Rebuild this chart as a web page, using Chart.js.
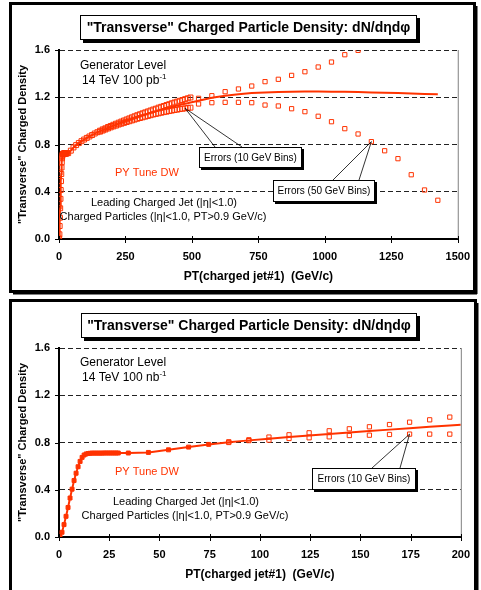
<!DOCTYPE html>
<html>
<head>
<meta charset="utf-8">
<script src="https://cdn.jsdelivr.net/npm/chart.js@4.4.1/dist/chart.umd.min.js"></script>
<style>
  html, body { margin: 0; padding: 0; background: #fff; }
  #wrap { position: relative; width: 481px; height: 590px; overflow: hidden; }
  canvas { position: absolute; left: 0; }
  #c1 { top: 0; }
  #c2 { top: 297px; }
</style>
</head>
<body>
<div id="wrap">
  <canvas id="c1" width="481" height="297"></canvas>
  <canvas id="c2" width="481" height="293"></canvas>
</div>
<script>
// ---- shared axis values ----
const yTicks = [0, 0.4, 0.8, 1.2, 1.6];
const xTicks1 = [0, 250, 500, 750, 1000, 1250, 1500];
const xTicks2 = [0, 25, 50, 75, 100, 125, 150, 175, 200];

// 1 GeV bins at low PT
const fineBinsPt = [0.5, 1.5, 2.5, 3.5, 4.5, 5.5, 6.5, 7.5, 8.5, 9.5, 10.5, 11.5, 12.5, 13.5, 14.5,
  15.5, 16.5, 17.5, 18.5, 19.5, 20.5, 21.5, 22.5, 23.5, 24.5, 25.5, 26.5, 27.5, 28.5, 29.5];

// ---- top panel: 14 TeV 100 pb-1 ----
const fineDens1 = [0.005, 0.04, 0.11, 0.18, 0.26, 0.34, 0.415, 0.49, 0.55, 0.605, 0.65, 0.683, 0.704, 0.714, 0.719,
  0.721, 0.722, 0.723, 0.723, 0.724, 0.724, 0.724, 0.725, 0.725, 0.725, 0.725, 0.725, 0.725, 0.726, 0.726];
const bins10Pt1 = [34.5, 44.5, 54.5, 64.5, 74.5, 84.5, 94.5, 104.5, 114.5, 124.5, 134.5, 144.5,
  154.5, 164.5, 174.5, 184.5, 194.5, 204.5, 214.5, 224.5, 234.5, 244.5, 254.5, 264.5, 274.5, 284.5,
  294.5, 304.5, 314.5, 324.5, 334.5, 344.5, 354.5, 364.5, 374.5, 384.5, 394.5, 404.5, 414.5, 424.5,
  434.5, 444.5, 454.5, 464.5, 474.5, 484.5, 494.5];
const bins10Dens1 = [0.727, 0.748, 0.775, 0.795, 0.812, 0.828, 0.842, 0.856, 0.868, 0.880, 0.893, 0.904,
  0.913, 0.923, 0.932, 0.942, 0.951, 0.960, 0.968, 0.977, 0.985, 0.993, 1.001, 1.009, 1.017, 1.025,
  1.033, 1.040, 1.047, 1.054, 1.061, 1.068, 1.075, 1.081, 1.088, 1.094, 1.100, 1.106, 1.112, 1.118,
  1.124, 1.129, 1.135, 1.140, 1.145, 1.150, 1.155];
const fitPt1 = [525, 575, 625, 675, 725, 775, 825, 875, 925, 975, 1025, 1075, 1125, 1175, 1225, 1275, 1325, 1375, 1425];
const fitDens1 = [1.170, 1.195, 1.213, 1.226, 1.235, 1.241, 1.245, 1.247, 1.248, 1.248, 1.247, 1.246, 1.244,
  1.241, 1.238, 1.235, 1.231, 1.228, 1.225];

const err10Pt1 = [154.5, 164.5, 174.5, 184.5, 194.5, 204.5, 214.5, 224.5, 234.5, 244.5, 254.5, 264.5,
  274.5, 284.5, 294.5, 304.5, 314.5, 324.5, 334.5, 344.5, 354.5, 364.5, 374.5, 384.5, 394.5, 404.5,
  414.5, 424.5, 434.5, 444.5, 454.5, 464.5, 474.5, 484.5, 494.5];
const err10Up1 = [0.917, 0.928, 0.937, 0.948, 0.957, 0.967, 0.976, 0.985, 0.994, 1.003, 1.012, 1.021,
  1.030, 1.039, 1.048, 1.056, 1.064, 1.072, 1.080, 1.088, 1.096, 1.103, 1.112, 1.119, 1.126, 1.134,
  1.141, 1.149, 1.156, 1.163, 1.170, 1.177, 1.184, 1.191, 1.198];
const err10Lo1 = [0.909, 0.918, 0.927, 0.936, 0.945, 0.953, 0.960, 0.969, 0.976, 0.983, 0.990, 0.997,
  1.004, 1.011, 1.018, 1.024, 1.030, 1.036, 1.042, 1.048, 1.054, 1.059, 1.064, 1.069, 1.074, 1.078,
  1.083, 1.087, 1.092, 1.095, 1.100, 1.103, 1.106, 1.109, 1.112];

const err50PtUp1 = [525, 575, 625, 675, 725, 775, 825, 875, 925, 975, 1025, 1075, 1125];
const err50Up1 = [1.191, 1.213, 1.247, 1.270, 1.295, 1.332, 1.352, 1.385, 1.416, 1.456, 1.498, 1.560, 1.597];
const err50PtLo1 = [525, 575, 625, 675, 725, 775, 825, 875, 925, 975, 1025, 1075, 1125, 1175, 1225, 1275, 1325, 1375, 1425];
const err50Lo1 = [1.143, 1.154, 1.157, 1.157, 1.154, 1.134, 1.126, 1.103, 1.078, 1.039, 0.993, 0.934, 0.889,
  0.824, 0.747, 0.680, 0.544, 0.415, 0.328];

// ---- bottom panel: 14 TeV 100 nb-1 ----
const fineDens2 = [0.005, 0.04, 0.105, 0.175, 0.25, 0.33, 0.405, 0.478, 0.54, 0.595, 0.64, 0.674, 0.694, 0.703, 0.707,
  0.709, 0.710, 0.710, 0.710, 0.710, 0.710, 0.710, 0.711, 0.711, 0.711, 0.711, 0.711, 0.711, 0.711, 0.711];
const bins10Pt2 = [34.5, 44.5, 54.5, 64.5, 74.5, 84.5, 94.5, 104.5, 114.5, 124.5, 134.5, 144.5, 154.5,
  164.5, 174.5, 184.5, 194.5, 200];
const bins10Dens2 = [0.711, 0.716, 0.738, 0.761, 0.784, 0.803, 0.818, 0.832, 0.846, 0.859, 0.872, 0.885,
  0.897, 0.909, 0.921, 0.933, 0.944, 0.950];
const err10Pt2 = [84.5, 94.5, 104.5, 114.5, 124.5, 134.5, 144.5, 154.5, 164.5, 174.5, 184.5, 194.5];
const err10Up2 = [0.806, 0.823, 0.846, 0.865, 0.882, 0.899, 0.916, 0.933, 0.952, 0.972, 0.992, 1.015];
const err10Lo2 = [0.800, 0.816, 0.820, 0.834, 0.840, 0.848, 0.859, 0.862, 0.868, 0.871, 0.871, 0.871];

const RED = '#ff3300';
const FONT = "'Liberation Sans', Arial, sans-serif";
Chart.defaults.font.family = FONT;

function xy(xs, ys) {
  return xs.map((x, i) => ({ x: x, y: ys[i] }));
}

function openSquares(xs, ys, r) {
  return {
    data: xy(xs, ys), showLine: false, pointStyle: 'rect', pointRadius: r,
    pointBorderColor: RED, pointBackgroundColor: 'rgba(0,0,0,0)', pointBorderWidth: 1
  };
}

function txt(ctx, s, x, y, size, opts) {
  opts = opts || {};
  ctx.font = (opts.bold ? 'bold ' : '') + size + 'px ' + FONT;
  ctx.fillStyle = opts.color || '#000';
  ctx.textAlign = opts.align || 'left';
  ctx.textBaseline = 'middle';
  ctx.fillText(s, x, y);
  return ctx.measureText(s).width;
}

function line(ctx, x1, y1, x2, y2) {
  ctx.beginPath(); ctx.moveTo(x1, y1); ctx.lineTo(x2, y2); ctx.stroke();
}

function shadowBox(ctx, x, y, w, h, off) {
  ctx.fillStyle = '#000';
  ctx.fillRect(x + off, y + off, w, h);
  ctx.fillStyle = '#fff';
  ctx.fillRect(x, y, w, h);
  ctx.strokeStyle = '#000';
  ctx.lineWidth = 1;
  ctx.strokeRect(x + 0.5, y + 0.5, w - 1, h - 1);
}

// frame, title box, labels and callouts drawn over each panel
function panelPlugin(p) {
  return {
    id: 'panel' + p.id,
    afterDraw(chart) {
      const ctx = chart.ctx;
      const a = chart.chartArea;
      const sx = chart.scales.x, sy = chart.scales.y;
      ctx.save();

      // right edge of the plot
      ctx.strokeStyle = '#808080'; ctx.lineWidth = 1;
      line(ctx, a.right + 0.5, a.top, a.right + 0.5, a.bottom);

      // tick marks
      ctx.strokeStyle = '#000';
      sx.ticks.forEach(t => {
        const px = Math.round(sx.getPixelForValue(t.value)) + 0.5;
        line(ctx, px, a.bottom - 3, px, a.bottom + 4);
      });
      sy.ticks.forEach(t => {
        const py = Math.round(sy.getPixelForValue(t.value)) + 0.5;
        line(ctx, a.left - 4, py, a.left, py);
      });

      // outer frame
      ctx.lineWidth = 3;
      ctx.strokeRect(p.frame[0] + 0.5, p.frame[1] + 0.5, p.frame[2], p.frame[3]);
      ctx.fillStyle = '#000';
      ctx.fillRect(p.frame[0] + p.frame[2] + 2, p.frame[1] + 3, 1.5, p.frame[3]);
      ctx.fillRect(p.frame[0] + 3, p.frame[1] + p.frame[3] + 2, p.frame[2], 1.5);

      // title box
      const tb = p.titleBox;
      shadowBox(ctx, tb[0], tb[1], tb[2], tb[3], 3);
      txt(ctx, '"Transverse" Charged Particle Density: dN/d\u03b7d\u03c6', tb[0] + tb[2] / 2, tb[1] + tb[3] / 2 + 0.5, 14,
        { bold: true, align: 'center' });

      // annotations
      txt(ctx, 'Generator Level', 80, p.genY, 12);
      const w = txt(ctx, '14 TeV 100 ' + p.lumi, 82, p.genY + 15, 12);
      txt(ctx, '-1', 82 + w, p.genY + 11, 8);
      txt(ctx, 'PY Tune DW', 115, p.pyY, 11, { color: RED });
      txt(ctx, 'Leading Charged Jet (|\u03b7|<1.0)', p.jetX, p.jetY, 11, { align: 'center' });
      txt(ctx, 'Charged Particles (|\u03b7|<1.0, PT>0.9 GeV/c)', p.jetX - 1, p.jetY + 14, 11, { align: 'center' });

      // callouts
      p.callouts.forEach(c => {
        const ax = sx.getPixelForValue(c.apex[0]);
        const ay = sy.getPixelForValue(c.apex[1]);
        ctx.strokeStyle = '#000'; ctx.lineWidth = 0.8;
        c.feet.forEach(fx => line(ctx, ax, ay, fx, c.box[1]));
        shadowBox(ctx, c.box[0], c.box[1], c.box[2], c.box[3], 2);
        txt(ctx, c.text, c.box[0] + c.box[2] / 2, c.box[1] + c.box[3] / 2 + 0.5, 10, { align: 'center' });
      });
      ctx.restore();
    }
  };
}

function makeScales(xMax, xTicks, xAxisH, xTitlePad) {
  return {
    x: {
      type: 'linear', min: 0, max: xMax,
      afterBuildTicks: s => { s.ticks = xTicks.map(v => ({ value: v })); },
      afterFit: s => { s.height = xAxisH; },
      grid: { drawOnChartArea: false, drawTicks: false },
      border: { display: true, color: '#000', width: 2 },
      ticks: {
        font: { family: FONT, size: 11, weight: 'bold' }, color: '#000', padding: 11,
        maxRotation: 0, autoSkip: false, callback: v => String(v)
      },
      title: {
        display: true, text: 'PT(charged jet#1)  (GeV/c)', color: '#000',
        font: { family: FONT, size: 12, weight: 'bold' }, padding: { top: 0, bottom: xTitlePad }
      }
    },
    y: {
      type: 'linear', min: 0, max: 1.6,
      afterBuildTicks: s => { s.ticks = yTicks.map(v => ({ value: v })); },
      afterFit: s => { s.width = 47; },
      grid: {
        color: c => (c.tick && c.tick.value === 0) ? 'rgba(0,0,0,0)' : '#222',
        lineWidth: 1, drawTicks: false
      },
      border: { display: true, color: '#000', width: 2, dash: [5, 3] },
      ticks: {
        font: { family: FONT, size: 11, weight: 'bold' }, color: '#000', padding: 9,
        callback: v => Number(v).toFixed(1)
      },
      title: {
        display: true, text: '"Transverse" Charged Density', color: '#000',
        font: { family: FONT, size: 11, weight: 'bold' }, padding: { top: 4.4, bottom: 0 }
      }
    }
  };
}

const baseOpts = {
  responsive: false, animation: false, devicePixelRatio: 1,
  plugins: { legend: { display: false }, tooltip: { enabled: false } }
};

// ---- top chart ----
new Chart(document.getElementById('c1'), {
  type: 'scatter',
  data: {
    datasets: [
      {
        data: xy(fineBinsPt.concat(bins10Pt1, fitPt1), fineDens1.concat(bins10Dens1, fitDens1)),
        showLine: true, borderColor: RED, borderWidth: 2, pointStyle: 'rect',
        pointRadius: c => (c.raw && c.raw.x <= 150) ? 3.5 : 0,
        pointBorderColor: RED, pointBackgroundColor: 'rgba(0,0,0,0)', pointBorderWidth: 1
      },
      openSquares(err10Pt1, err10Up1, 3.5),
      openSquares(err10Pt1, err10Lo1, 3.5),
      openSquares(err50PtUp1, err50Up1, 3),
      openSquares(err50PtLo1, err50Lo1, 3)
    ]
  },
  options: Object.assign({}, baseOpts, {
    layout: { padding: { left: 12, right: 15, top: 50, bottom: 0 } },
    scales: makeScales(1500, xTicks1, 58, 13)
  }),
  plugins: [panelPlugin({
    id: 1, frame: [10, 3, 464, 288], titleBox: [80, 15, 337, 25], lumi: 'pb',
    genY: 66, pyY: 173, jetX: 164, jetY: 203,
    callouts: [
      { box: [199, 147, 103, 21], text: 'Errors (10 GeV Bins)', feet: [215, 242], apex: [err10Pt1[32], err10Lo1[32]] },
      { box: [273, 180, 102, 22], text: 'Errors (50 GeV Bins)', feet: [333, 359], apex: [err50PtLo1[13], err50Lo1[13]] }
    ]
  })]
});

// ---- bottom chart ----
new Chart(document.getElementById('c2'), {
  type: 'scatter',
  data: {
    datasets: [
      {
        data: xy(fineBinsPt.concat(bins10Pt2), fineDens2.concat(bins10Dens2)),
        showLine: true, borderColor: RED, borderWidth: 2, pointStyle: 'rect',
        pointRadius: c => (c.raw && c.raw.x <= 80) ? 2.8 : 0,
        pointBorderColor: RED, pointBackgroundColor: RED, pointBorderWidth: 1
      },
      openSquares(err10Pt2, err10Up2, 3),
      openSquares(err10Pt2, err10Lo2, 3)
    ]
  },
  options: Object.assign({}, baseOpts, {
    layout: { padding: { left: 12, right: 12, top: 51, bottom: 0 } },
    scales: makeScales(200, xTicks2, 53, 8)
  }),
  plugins: [panelPlugin({
    id: 2, frame: [10, 3, 465, 300], titleBox: [81, 16, 336, 25], lumi: 'nb',
    genY: 66, pyY: 175, jetX: 186, jetY: 205,
    callouts: [
      { box: [312, 171, 104, 22], text: 'Errors (10 GeV Bins)', feet: [372, 400], apex: [err10Pt2[9], err10Lo2[9]] }
    ]
  })]
});
</script>
</body>
</html>
